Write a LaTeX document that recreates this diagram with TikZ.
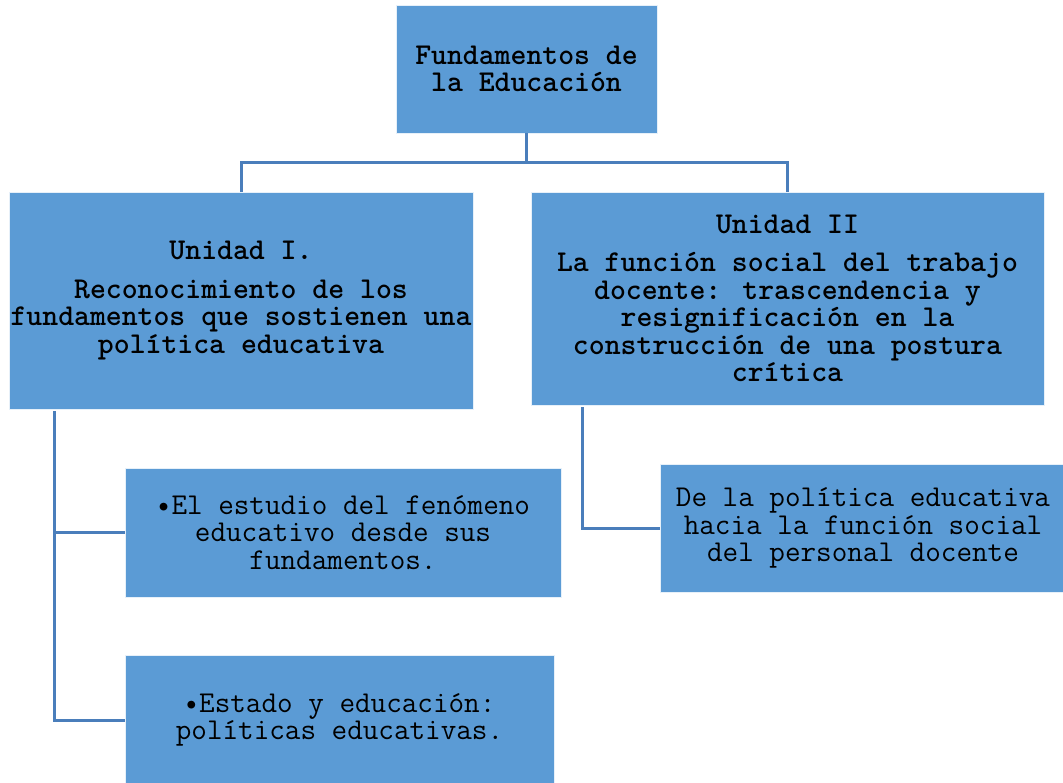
\documentclass[tikz,border=0pt]{standalone}
\usepackage{fontspec}
\definecolor{boxfill}{RGB}{91,155,213}
\definecolor{linkcol}{RGB}{74,126,187}
\begin{document}
\begin{tikzpicture}[x=0.75pt,y=-0.75pt,
  box/.style={rectangle,fill=boxfill,draw=white!85!boxfill,line width=0.6pt,inner sep=0pt,align=center,
    font=\ttfamily\fontsize{22.7pt}{20.6pt}\selectfont},
  boldbox/.style={box,font=\ttfamily\bfseries\fontsize{22.7pt}{20.6pt}\selectfont},
  link/.style={draw=linkcol,line width=2.25pt}]
\useasboundingbox (0,0) rectangle (1063,782);
\node[boldbox,minimum width=195.75pt,minimum height=96pt] (top) at (526.5,69) {Fundamentos de\\la Educación};
\node[boldbox,minimum width=348pt,minimum height=162.75pt] (u1) at (241,300.5) {Unidad I.\\[8pt]Reconocimiento de los\\fundamentos que sostienen una\\política educativa};
\node[boldbox,minimum width=384.75pt,minimum height=159.75pt] (u2) at (787.5,298.5) {Unidad II\\[8pt]La función social del trabajo\\docente: trascendencia y\\resignificación en la\\construcción de una postura\\crítica};
\node[box,minimum width=327pt,minimum height=96.75pt] (c1) at (343,532.5) {•El estudio del fenómeno\\educativo desde sus\\fundamentos.};
\node[box,minimum width=321.75pt,minimum height=97.5pt] (c2) at (339.5,720) {•Estado y educación:\\políticas educativas.};
\node[box,minimum width=304.5pt,minimum height=96pt] (c3) at (863,528) {De la política educativa\\hacia la función social\\del personal docente};
\coordinate (hub) at (526.5,162);
\draw[link] (top.south) -- (hub);
\draw[link] (hub) -| (u1.north);
\draw[link] (hub) -| (u2.north);
\coordinate (lroot) at (54,411);
\draw[link] (lroot) |- (c1.west);
\draw[link] (lroot) |- (c2.west);
\coordinate (rroot) at (582,407);
\draw[link] (rroot) |- (c3.west);
\end{tikzpicture}
\end{document}
